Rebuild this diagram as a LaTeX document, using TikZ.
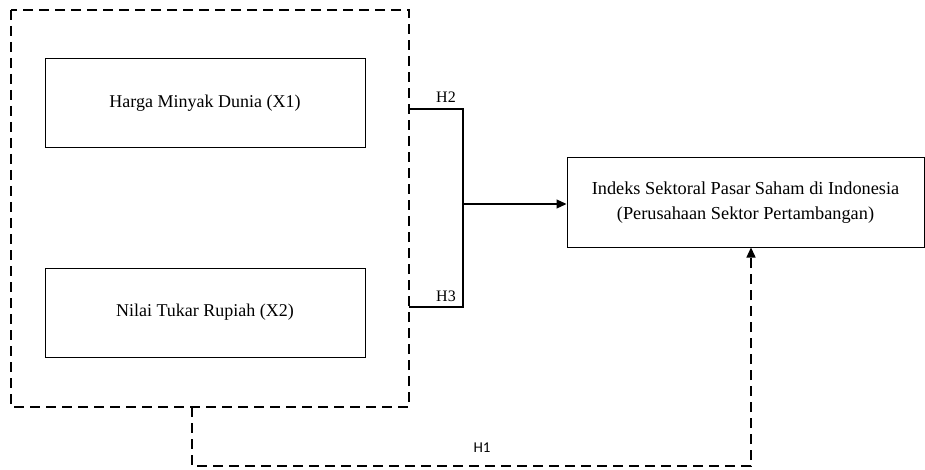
\documentclass[tikz,border=0pt]{standalone}
\usepackage{fontspec}
\setmainfont{Liberation Serif}
\newfontfamily\labelsans{Carlito}
\usetikzlibrary{arrows.meta}
\begin{document}
\begin{tikzpicture}[x=1pt,y=-1pt,
  varbox/.style={draw, line width=1pt, minimum width=320pt, minimum height=89pt, inner sep=0pt, font=\fontsize{18}{22}\selectfont, align=center},
  depbox/.style={draw, line width=1pt, minimum width=357pt, minimum height=89pt, inner sep=0pt, font=\fontsize{18.3}{25}\selectfont, align=center},
  dashline/.style={line width=1.3pt, dash pattern=on 10pt off 6pt},
  solidline/.style={line width=1.1pt},
  hlabel/.style={font=\fontsize{16}{18}\selectfont, inner sep=0pt},
  tip/.style={-{Triangle[length=10pt,width=9pt]}}
]
\useasboundingbox (0,0) rectangle (925,470);
\node[varbox] (x1) at (205,103.5) {Harga Minyak Dunia (X1)};
\node[varbox] (x2) at (205,312.5) {Nilai Tukar Rupiah (X2)};
\node[depbox] (y) at (745.5,202.5) {Indeks Sektoral Pasar Saham di Indonesia\\(Perusahaan Sektor Pertambangan)};
\coordinate (gtl) at (11,10);
\coordinate (gbr) at (409,407);
\draw[dashline] (gtl) rectangle (gbr);
\coordinate (a1) at (409,109);
\coordinate (a2) at (409,307);
\coordinate (jt) at (463,109);
\coordinate (jb) at (463,307);
\coordinate (jm) at (463,204);
\draw[solidline] (a1) -- (jt) -- (jb) -- (a2);
\draw[solidline,tip] (jm) -- (jm -| y.west);
\node[hlabel] (h2) at (446,97) {H2};
\node[hlabel] (h3) at (446,296) {H3};
\coordinate (d0) at (192,407);
\coordinate (d1) at (192,466);
\coordinate (d2) at (751,466);
\draw[dashline,tip] (d0) -- (d1) -- (d2) -- (d2 |- y.south);
\node[hlabel,font=\labelsans\fontsize{15}{18}\selectfont] (h1) at (482,448) {H1};
\end{tikzpicture}
\end{document}
